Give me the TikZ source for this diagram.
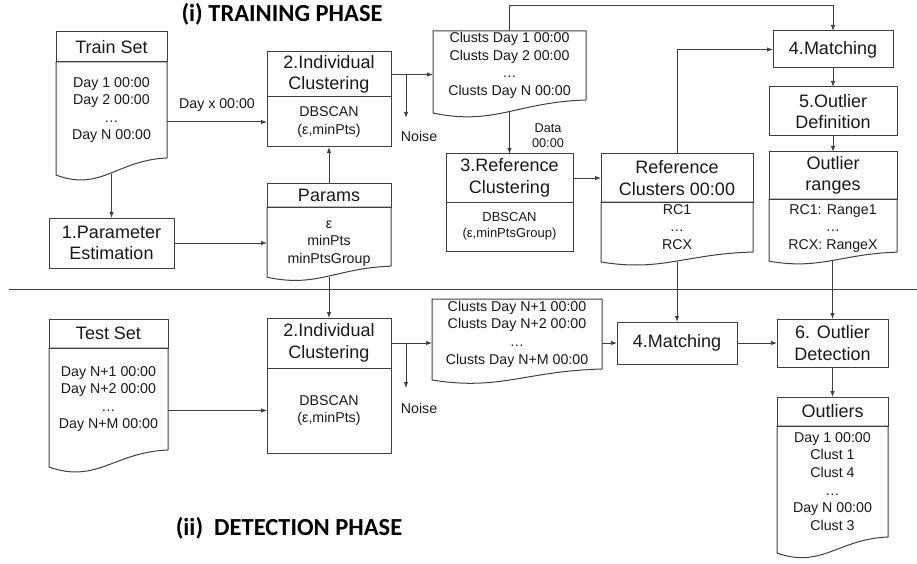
\documentclass[tikz,border=0pt]{standalone}
\usepackage{fontspec}
\setmainfont{Liberation Sans}
\newfontfamily\phasefont{Carlito}
\usetikzlibrary{arrows.meta,calc}
\tikzset{
  box/.style = {% plain boxes of the flow, placed by their top left corner
    draw=black!75, rectangle, anchor=north west,
    inner sep=0pt, outer sep=0pt, align=center, text=black!90,
    font=\fontsize{14.2}{17.6}\selectfont
  },
  head/.style = {box, font=\fontsize{18}{21.5}\selectfont},
  page/.style = {box, draw=none},% outline drawn later, with a wavy bottom
  wh/.style 2 args = {minimum width=#1pt, minimum height=#2pt},
  arr/.style = {draw=black!75, -{Latex[length=6pt,width=4.5pt]}},
  lbl/.style = {inner sep=0pt, text=black!90, font=\fontsize{14.2}{17}\selectfont},
  phase/.style = {font=\phasefont\bfseries\fontsize{24.5}{28}\selectfont}
}

\begin{document}
\begin{tikzpicture}[x=1pt,y=-1pt,line width=1pt]
  \useasboundingbox (0,0) rectangle (917,564);
  % training phase
  \node[phase] (phase1) at (282,14) {(i) TRAINING PHASE};
  \node[head, wh={111}{30}] (trainh) at (56,32) {Train Set};
  \node[page, wh={111}{96}] (trainb) at (56,62) {Day 1 00:00\\Day 2 00:00\\\dots\\Day N 00:00};
  \node[head, wh={124}{45}] (indh) at (267,52) {2.Individual\\Clustering};
  \node[box, wh={124}{50}] (indb) at (267,97) {DBSCAN\\(ε,minPts)};
  \node[head, wh={125}{50}] (parest) at (49,218) {1.Parameter\\Estimation};
  \node[head, wh={124}{24}] (paramsh) at (267,183) {Params};
  \node[page, wh={124}{55}] (paramsb) at (267,207) {\rule{0pt}{21pt}ε\\minPts\\minPtsGroup};
  \node[page, wh={153}{69}] (clusts) at (433,31) {Clusts Day 1 00:00\\Clusts Day 2 00:00\\\dots\\Clusts Day N 00:00};
  \node[head, wh={120}{37}] (match) at (773,31) {4.Matching};
  \node[head, wh={127}{48}] (refclh) at (446,154) {3.Reference\\Clustering};
  \node[box, wh={127}{49}, font=\fontsize{13}{16}\selectfont] (refclb) at (446,202) {DBSCAN\\(ε,minPtsGroup)};
  \node[head, wh={152}{48}] (refcsh) at (601,154) {Reference\\Clusters 00:00};
  \node[page, wh={152}{50}] (refcsb) at (601,202) {RC1\\\dots\\RCX};
  \node[head, wh={128}{49}] (outdef) at (769,87) {5.Outlier\\Definition};
  \node[head, wh={128}{47}] (rangesh) at (769,152) {Outlier\\ranges};
  \node[page, wh={128}{50}] (rangesb) at (769,199) {\rule{0pt}{15pt}RC1: Range1\\\dots\\RCX: RangeX};
  % detection phase
  \node[head, wh={119}{29}] (testh) at (49,319) {Test Set};
  \node[page, wh={119}{102}] (testb) at (49,348) {Day N+1 00:00\\Day N+2 00:00\\\dots\\Day N+M 00:00};
  \node[head, wh={124}{50}] (indh2) at (267,318) {2.Individual\\Clustering};
  \node[box, wh={124}{85}] (indb2) at (267,368) {DBSCAN\\(ε,minPts)};
  \node[page, wh={170}{70}] (clusts2) at (432,299) {Clusts Day N+1 00:00\\Clusts Day N+2 00:00\\\dots\\Clusts Day N+M 00:00};
  \node[head, wh={120}{42}] (match2) at (617,322) {4.Matching};
  \node[head, wh={111}{48}] (outdet) at (777,319) {6. Outlier\\Detection};
  \node[head, wh={111}{29}] (outlh) at (777,397) {Outliers};
  \node[page, wh={111}{111}] (outlb) at (777,426) {Day 1 00:00\\Clust 1\\Clust 4\\\dots\\Day N 00:00\\Clust 3};
  \node[phase] (phase2) at (289,528) {(ii)\ \ DETECTION PHASE};

  % document outlines: left corner lower than the right one
  \foreach \n/\w/\d in {trainb/111/17, paramsb/124/11, clusts/153/13, refcsb/152/10,
      rangesb/128/9, testb/119/17, clusts2/170/11, outlb/111/16}
    \draw[black!75] (\n.south east) -- (\n.north east) -- (\n.north west)
      -- ($(\n.south west)+(0,\d)$) .. controls +(0.4*\w,\d) and +(-0.45*\w,2) .. (\n.south east)
      coordinate[pos=0.5] (\n-w);

  \draw[black!75] (9,289) -- (917,289);

  % training flow
  \draw[arr] (parest.north |- trainb-w) -- (parest.north);
  \draw[arr] (indb.west -| trainb.east) -- node[lbl, above=10pt] (dayx) {Day x 00:00} (indb.west);
  \draw[arr] (parest.east) -- (parest.east -| paramsb.west);
  \draw[arr] (paramsh.north) -- (indb.south);
  \draw[arr] (indh.east) -- (indh.east -| clusts.west);
  \coordinate (drop1) at (406,118);
  \draw[arr] (indh.east -| drop1) -- (drop1);
  \node[lbl] (noise1) at (419,136) {Noise};
  \draw[arr] (clusts.north) -- ++(0,-25) -| (match.north);
  \draw[arr] (refclh.north |- clusts-w) -- (refclh.north);
  \node[lbl, align=center, font=\fontsize{12.7}{15}\selectfont] (data) at (548,136) {Data\\00:00};
  \draw[arr] (refclh.east) -- (refclh.east -| refcsh.west);
  \draw[arr] (refcsh.north) |- (match.west);
  \draw[arr] (match) -- (outdef);
  \draw[arr] (outdef) -- (rangesh);

  % detection flow
  \draw[arr] (indh2.north |- paramsb-w) -- (indh2.north);
  \draw[arr] (indb2.west -| testb.east) -- (indb2.west);
  \draw[arr] (indh2.east) -- (indh2.east -| clusts2.west);
  \coordinate (drop2) at (406,388);
  \draw[arr] (indh2.east -| drop2) -- (drop2);
  \node[lbl] (noise2) at (419,408) {Noise};
  \draw[arr] (match2.west -| clusts2.east) -- (match2.west);
  \draw[arr] (match2) -- (outdet);
  \draw[arr] (match2.north |- refcsb-w) -- (match2.north);
  \draw[arr] (outdet.north |- rangesb-w) -- (outdet.north);
  \draw[arr] (outdet) -- (outlh);
\end{tikzpicture}
\end{document}
